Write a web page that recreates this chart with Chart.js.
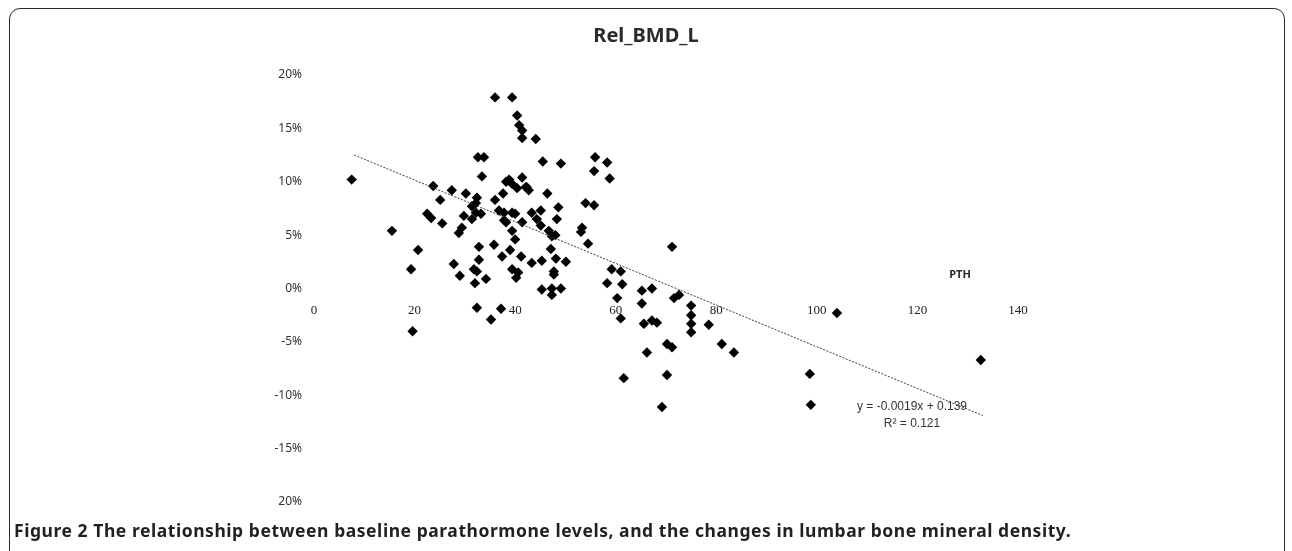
<!DOCTYPE html>
<html><head><meta charset="utf-8">
<script src="https://cdn.jsdelivr.net/npm/chart.js@4/dist/chart.umd.min.js"></script>
<style>
html,body{margin:0;padding:0;background:#fff;}
#wrap{position:relative;width:1292px;height:551px;overflow:hidden;}
#frame{position:absolute;left:9px;top:8px;width:1276px;height:620px;border:1.5px solid #2a2a2a;border-radius:11px;box-sizing:border-box;}
#cap{position:absolute;left:14px;top:519px;font:bold 17.5px "Noto Sans",sans-serif;letter-spacing:0.55px;color:#231f20;white-space:nowrap;line-height:22px;}
canvas{position:absolute;left:0;top:0;}
</style></head><body>
<div id="wrap"><div id="frame"></div><canvas id="c" width="1292" height="551"></canvas>
<div id="cap">Figure 2 The relationship between baseline parathormone levels, and the changes in lumbar bone mineral density.</div></div>
<script>
const chartTitle = 'Rel_BMD_L';
const xAxisName = 'PTH';
const equationLines = ['y = -0.0019x + 0.139', 'R² = 0.121'];
const xTickLabels = ['0','20','40','60','80','100','120','140'];
const yTickLabels = ['20%','-15%','-10%','-5%','0%','5%','10%','15%','20%'];

// PTH values (x)
const pth = [7.5,15.5,19.3,19.6,20.7,22.5,23.3,23.7,25.1,25.5,27.4,27.8,29.0,28.8,29.4,29.8,30.2,31.4,31.4,32.2,
  32.4,32.2,33.2,32.6,33.8,33.4,32.8,32.8,31.8,32.4,34.2,32.0,32.4,35.2,35.8,36.0,36.0,37.2,37.4,39.0,
  41.2,39.4,40.4,40.8,41.4,41.4,44.1,45.5,49.1,37.6,38.2,38.8,39.4,40.4,41.4,42.1,42.7,46.4,36.8,37.8,
  39.4,40.0,37.8,38.2,39.4,40.0,41.4,43.3,45.1,44.3,45.1,48.3,48.6,46.7,47.3,39.4,40.2,40.6,43.3,45.3,
  47.1,48.1,47.7,50.1,45.3,47.3,49.1,47.3,47.7,53.3,53.1,54.5,54.0,55.7,55.9,58.3,55.7,58.8,59.2,61.0,
  58.3,61.3,60.3,61.0,61.6,65.2,67.2,65.2,65.6,67.2,68.2,66.2,70.2,71.2,70.2,69.2,71.6,72.6,71.2,75.0,
  75.0,75.0,75.0,78.5,81.1,83.5,104.0,98.6,98.8,132.6,48.0,42.3];
// Relative change in lumbar BMD (%)
const relBmdL = [10.2,5.4,1.8,-4.0,3.6,7.0,6.6,9.6,8.3,6.1,9.2,2.3,1.2,5.2,5.7,6.8,8.9,6.5,7.7,7.1,
  8.5,8.0,7.0,12.3,12.3,10.5,3.9,2.7,1.8,1.6,0.9,0.5,-1.8,-2.9,4.1,17.9,8.3,-1.9,3.0,3.6,
  3.0,17.9,16.2,15.3,14.8,14.1,14.0,11.9,11.7,8.9,10.0,10.2,9.8,9.4,10.4,9.5,9.2,8.9,7.3,7.1,
  7.1,7.0,6.4,6.2,5.4,4.6,6.2,7.1,7.3,6.5,5.9,6.5,7.6,5.4,4.9,1.8,1.0,1.5,2.4,2.6,
  3.7,2.8,1.6,2.5,-0.1,0.0,0.0,-0.6,1.3,5.7,5.3,4.2,8.0,7.8,12.3,11.8,11.0,10.3,1.8,1.6,
  0.5,0.4,-0.9,-2.8,-8.4,-0.2,0.0,-1.4,-3.3,-3.0,-3.2,-6.0,-5.2,-5.5,-8.1,-11.1,-0.9,-0.6,3.9,-1.6,
  -2.5,-3.3,-4.1,-3.4,-5.2,-6.0,-2.3,-8.0,-10.9,-6.7,5.0,9.5];
// Trendline end points
const trendX = [8, 133];
const trendY = [12.5, -11.9];

const points = pth.map((x, i) => ({x: x, y: relBmdL[i]}));
const trend = trendX.map((x, i) => ({x: x, y: trendY[i]}));

const textPlugin = {
  id: 'texts',
  afterDraw(chart) {
    const ctx = chart.ctx;
    ctx.save();
    ctx.fillStyle = '#2b2b2b';
    ctx.textAlign = 'center';
    ctx.textBaseline = 'middle';
    ctx.font = 'bold 20px "Noto Sans", sans-serif';
    ctx.fillText(chartTitle, 646, 36);
    ctx.font = 'bold 11px "Noto Sans", sans-serif';
    ctx.fillText(xAxisName, 960, 275);
    ctx.font = '12px "Liberation Sans", sans-serif';
    ctx.fillStyle = '#333';
    ctx.fillText(equationLines[0], 912, 407);
    ctx.fillText(equationLines[1], 912, 424);
    ctx.restore();
  }
};

new Chart(document.getElementById('c'), {
  type: 'scatter',
  data: {
    datasets: [
      {type: 'line', data: trend, borderColor: '#3a3a3a', borderWidth: 1, borderDash: [2, 1.5], pointRadius: 0, fill: false, showLine: true},
      {data: points, pointStyle: 'rectRot', radius: 5.2, backgroundColor: '#000', borderColor: '#000', borderWidth: 0}
    ]
  },
  options: {
    responsive: false,
    animation: false,
    devicePixelRatio: 1,
    layout: {padding: {left: 0, right: 274, top: 75, bottom: 49}},
    plugins: {legend: {display: false}, tooltip: {enabled: false}, title: {display: false}},
    scales: {
      x: {
        type: 'linear', min: 0, max: 140, position: {y: 0},
        grid: {display: false, drawTicks: false}, border: {display: false},
        ticks: {stepSize: 20, padding: 14, color: '#222', maxRotation: 0,
          font: {family: '"Liberation Serif", serif', size: 13},
          callback: (v, i) => xTickLabels[i]},
        afterFit: s => { s.paddingLeft = 0; s.paddingRight = 0; }
      },
      y: {
        type: 'linear', min: -20, max: 20, position: 'left',
        grid: {display: false, drawTicks: false}, border: {display: false},
        ticks: {stepSize: 5, padding: 12, color: '#333',
          font: {family: '"Noto Sans", sans-serif', size: 12},
          callback: (v, i) => yTickLabels[i]},
        afterFit: s => { s.width = 314; s.paddingTop = 0; s.paddingBottom = 0; }
      }
    }
  },
  plugins: [textPlugin]
});
</script>
</body></html>
